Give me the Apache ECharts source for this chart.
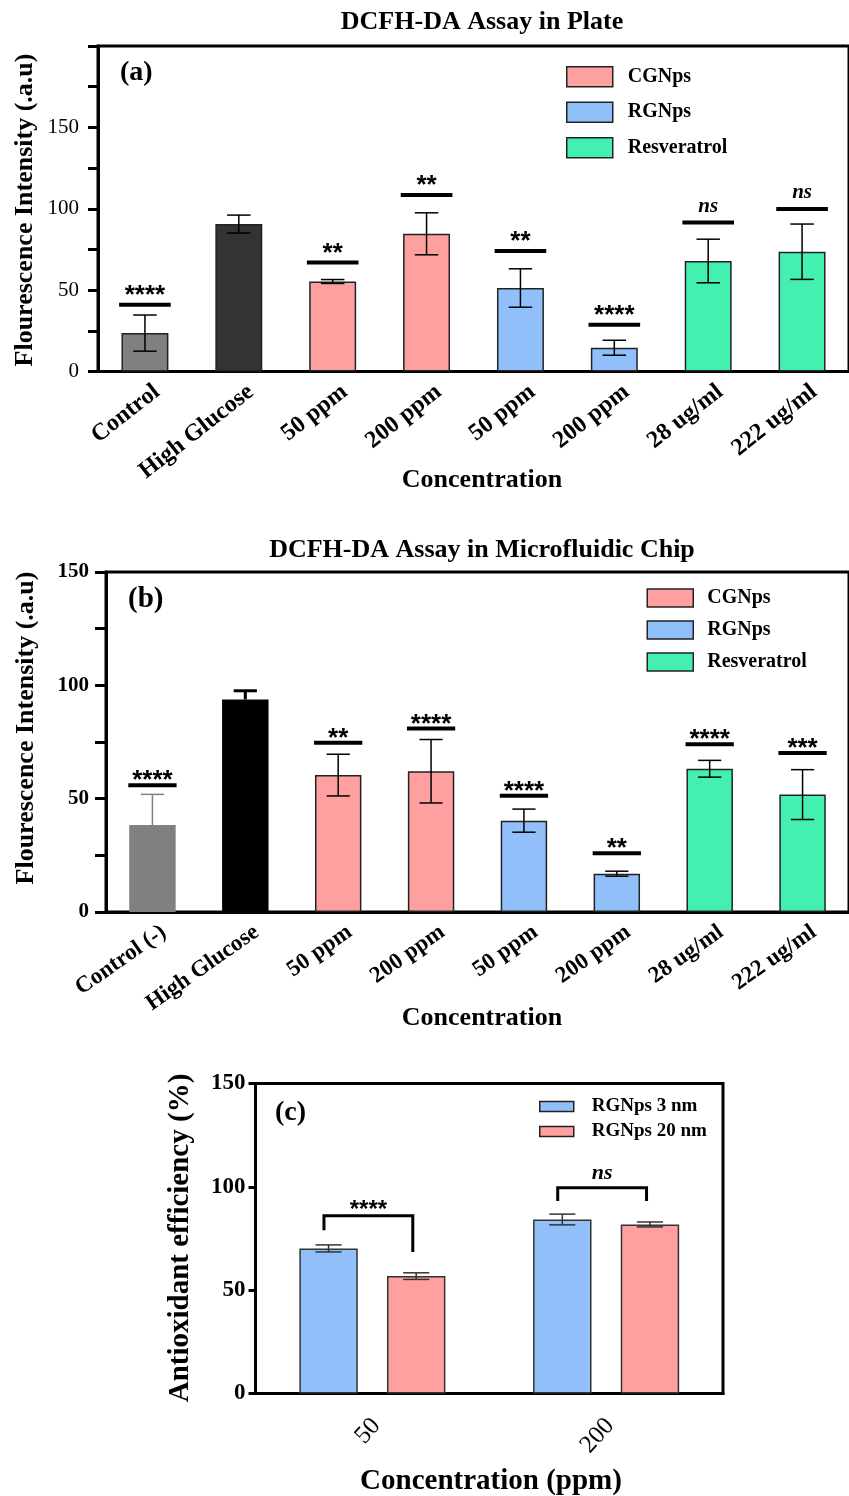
<!DOCTYPE html>
<html><head><meta charset="utf-8">
<script src="https://cdn.jsdelivr.net/npm/echarts@6/dist/echarts.min.js"></script>
<style>html,body{margin:0;padding:0;background:#fff}#c{width:849px;height:1496px}</style>
</head><body><div id="c"></div>
<script>
// ---------------- DATA ----------------
const catsA = ['Control','High Glucose','50 ppm','200 ppm','50 ppm','200 ppm','28 ug/ml','222 ug/ml'];
const groupA = ['Control','High Glucose','CGNps','CGNps','RGNps','RGNps','Resveratrol','Resveratrol'];
const meanA = [23.6, 90.6, 55.3, 84.6, 51.3, 14.6, 67.9, 73.6];
const sdA   = [11.1, 5.5, 1.2, 12.9, 11.8, 4.6, 13.4, 17.0];
const sigA  = ['****', '', '**', '**', '**', '****', 'ns', 'ns'];
const sigLevelA = [41, null, 67, 108.5, 74, 28.7, 91.6, 99.8];

const catsB = ['Control (-)','High Glucose','50 ppm','200 ppm','50 ppm','200 ppm','28 ug/ml','222 ug/ml'];
const groupB = ['Control (-)','High Glucose','CGNps','CGNps','RGNps','RGNps','Resveratrol','Resveratrol'];
const meanB = [38.4, 93.8, 60.4, 62.1, 40.3, 16.9, 63.2, 51.8];
const sdB   = [13.5, 3.8, 9.2, 14.0, 5.1, 1.1, 3.7, 11.0];
const sigB  = ['****', '', '**', '****', '****', '**', '****', '***'];
const sigLevelB = [55.9, null, 74.7, 81, 51.3, 25.9, 74, 70.1];

const catsC = ['50', '200'];
const mean3nm  = [70.2, 84.2];
const sd3nm    = [1.7, 2.6];
const mean20nm = [56.8, 81.8];
const sd20nm   = [1.6, 1.2];
const sigC = ['****', 'ns'];
const bracketC = [[86, 79, 68.5], [99.5, 93.2, 93.2]]; // top, left leg end, right leg end

// ---------------- STYLE ----------------
const SERIF = '"Liberation Serif","Times New Roman",serif';
const SANS = '"Liberation Sans",Arial,sans-serif';
const colA = {'Control':'#808080','High Glucose':'#333333','CGNps':'#FFA0A0','RGNps':'#91BFFA','Resveratrol':'#44F0B0'};
const colB = {'Control (-)':'#808080','High Glucose':'#000000','CGNps':'#FFA0A0','RGNps':'#91BFFA','Resveratrol':'#44F0B0'};
const upperOnlyB = [0, 1];

function barSeries(groups, means, gi, colors, stack, noBorder) {
  const names = [];
  groups.forEach(g => { if (!names.includes(g)) names.push(g); });
  return names.map(n => ({
    type: 'bar', name: n, xAxisIndex: gi, yAxisIndex: gi, stack: stack, barWidth: '50%',
    data: means.map((v, i) => groups[i] === n ? v : '-'),
    itemStyle: { color: colors[n], borderColor: (noBorder && noBorder.includes(n)) ? colors[n] : '#222', borderWidth: 1.5 },
    silent: true
  }));
}

function errSeries(means, sds, gi, upperOnly, colorFor, widthFor) {
  return {
    type: 'custom', xAxisIndex: gi, yAxisIndex: gi, z: 4, clip: false, silent: true,
    data: means.map((m, i) => [i, m, sds[i]]),
    renderItem(params, api) {
      const i = api.value(0), m = api.value(1), s = api.value(2);
      const bw = api.size([1, 0])[0];
      const x = api.coord([i, m])[0];
      const yT = api.coord([i, m + s])[1];
      const yB = upperOnly.includes(i) ? api.coord([i, m])[1] : api.coord([i, m - s])[1];
      const cap = bw * 0.125;
      const st = { stroke: colorFor(i), lineWidth: widthFor(i), fill: null };
      const ch = [
        { type: 'line', shape: { x1: x, y1: yT, x2: x, y2: yB }, style: st },
        { type: 'line', shape: { x1: x - cap, y1: yT, x2: x + cap, y2: yT }, style: st }
      ];
      if (!upperOnly.includes(i)) ch.push({ type: 'line', shape: { x1: x - cap, y1: yB, x2: x + cap, y2: yB }, style: st });
      return { type: 'group', children: ch };
    }
  };
}

function sigSeries(labels, levels, gi, wFrac, astOff, nsOff) {
  const items = [];
  labels.forEach((t, i) => { if (t) items.push({ v: [i, levels[i]], t: t }); });
  return {
    type: 'custom', xAxisIndex: gi, yAxisIndex: gi, z: 5, clip: false, silent: true,
    data: items.map(d => d.v),
    renderItem(params, api) {
      const d = items[params.dataIndex];
      const p = api.coord(d.v);
      const bw = api.size([1, 0])[0];
      const w = bw * wFrac;
      const ns = d.t === 'ns';
      return { type: 'group', children: [
        { type: 'rect', shape: { x: p[0] - w / 2, y: p[1] - 2, width: w, height: 4 }, style: { fill: '#000' } },
        { type: 'text', style: { x: p[0], y: p[1] - (ns ? nsOff : astOff), text: d.t, align: 'center', verticalAlign: 'middle',
          fontFamily: ns ? SERIF : SANS, fontStyle: ns ? 'italic' : 'normal', fontWeight: 'bold', fontSize: ns ? 21 : 26, fill: '#000' } }
      ]};
    }
  };
}

function xAxisCfg(gi, data, rot, fs, bold, margin, padR) {
  return {
    type: 'category', gridIndex: gi, data: data,
    axisLine: { lineStyle: { color: '#000', width: 3 } },
    axisTick: { alignWithLabel: true, length: 9, lineStyle: { color: '#000', width: 3 } },
    axisLabel: { interval: 0, rotate: rot, margin: margin, fontSize: fs, fontWeight: bold ? 'bold' : 'normal', fontFamily: SERIF, color: '#000',
      align: 'right', verticalAlign: 'top', padding: [0, padR, 0, 0] }
  };
}
function yAxisCfg(gi, max, fs, bold, margin, tickLen, minor, hideMax) {
  return {
    type: 'value', gridIndex: gi, min: 0, max: max, interval: 50,
    axisLine: { show: true, lineStyle: { color: '#000', width: 3 } },
    axisTick: { show: true, length: tickLen, lineStyle: { color: '#000', width: 3 } },
    minorTick: { show: minor, splitNumber: 2, length: tickLen, lineStyle: { color: '#000', width: 3 } },
    splitLine: { show: false },
    axisLabel: { showMaxLabel: !hideMax, margin: margin, fontSize: fs, fontWeight: bold ? 'bold' : 'normal', fontFamily: SERIF, color: '#000' }
  };
}

const legendCommon = (fs, lh, pad) => ({
  orient: 'vertical', padding: 0, icon: 'rect', selectedMode: false,
  itemStyle: { borderColor: '#222', borderWidth: 1.5 },
  textStyle: { fontFamily: SERIF, fontWeight: 'bold', fontSize: fs, lineHeight: lh, color: '#000', padding: [0, 0, 0, pad] }
});

const chart = echarts.init(document.getElementById('c'), null, { renderer: 'canvas' });

const seriesC = [
  { type: 'bar', name: 'RGNps 3 nm', xAxisIndex: 2, yAxisIndex: 2, barWidth: '25%', barGap: '50%', data: mean3nm,
    itemStyle: { color: '#91BFFA', borderColor: '#333', borderWidth: 1.5 }, silent: true },
  { type: 'bar', name: 'RGNps 20 nm', xAxisIndex: 2, yAxisIndex: 2, barWidth: '25%', barGap: '50%', data: mean20nm,
    itemStyle: { color: '#FFA0A0', borderColor: '#333', borderWidth: 1.5 }, silent: true },
  { type: 'custom', xAxisIndex: 2, yAxisIndex: 2, z: 4, clip: false, silent: true,
    data: catsC.map((c, i) => [i, mean3nm[i], sd3nm[i], mean20nm[i], sd20nm[i]]),
    renderItem(params, api) {
      const i = api.value(0);
      const bw = api.size([1, 0])[0];
      const cx = api.coord([i, 0])[0];
      const off = bw * 0.1875, cap = bw * 0.056;
      const st = { stroke: '#333', lineWidth: 1.5, fill: null };
      const ch = [];
      [[api.value(1), api.value(2), -off], [api.value(3), api.value(4), off]].forEach(([m, s, o]) => {
        const x = cx + o, yT = api.coord([i, m + s])[1], yB = api.coord([i, m - s])[1];
        ch.push({ type: 'line', shape: { x1: x, y1: yT, x2: x, y2: yB }, style: st });
        ch.push({ type: 'line', shape: { x1: x - cap, y1: yT, x2: x + cap, y2: yT }, style: st });
        ch.push({ type: 'line', shape: { x1: x - cap, y1: yB, x2: x + cap, y2: yB }, style: st });
      });
      return { type: 'group', children: ch };
    } },
  { type: 'custom', xAxisIndex: 2, yAxisIndex: 2, z: 5, clip: false, silent: true,
    data: bracketC.map((b, i) => [i, b[0], b[1], b[2]]),
    renderItem(params, api) {
      const i = api.value(0);
      const bw = api.size([1, 0])[0];
      const cx = api.coord([i, 0])[0] - 4;
      const xl = cx - bw * 0.19, xr = cx + bw * 0.19;
      const yTop = api.coord([i, api.value(1)])[1];
      const yl = api.coord([i, api.value(2)])[1];
      const yr = api.coord([i, api.value(3)])[1];
      const ns = sigC[i] === 'ns';
      return { type: 'group', children: [
        { type: 'polyline', shape: { points: [[xl, yl], [xl, yTop], [xr, yTop], [xr, yr]] }, style: { stroke: '#000', lineWidth: 3, fill: null } },
        { type: 'text', style: { x: cx, y: yTop - (ns ? 15 : 5), text: sigC[i], align: 'center', verticalAlign: 'middle',
          fontFamily: ns ? SERIF : SANS, fontStyle: ns ? 'italic' : 'normal', fontWeight: 'bold', fontSize: ns ? 22 : 24, fill: '#000' } }
      ]};
    } }
];

const option = {
  backgroundColor: '#fff',
  animation: false,
  grid: [
    { left: 98, top: 46, height: 325.5, right: -10, show: true, borderColor: '#000', borderWidth: 3, backgroundColor: 'transparent' },
    { left: 106, top: 572, height: 340, right: -6, show: true, borderColor: '#000', borderWidth: 3, backgroundColor: 'transparent' },
    { left: 255.5, top: 1083.5, height: 310, right: 126, show: true, borderColor: '#000', borderWidth: 3, backgroundColor: 'transparent' }
  ],
  xAxis: [
    xAxisCfg(0, catsA, 38, 24, true, 12, -6),
    xAxisCfg(1, catsB, 35, 23, true, 12, -6),
    xAxisCfg(2, catsC, 48, 25, false, 14, 8)
  ],
  yAxis: [
    yAxisCfg(0, 200, 21, false, 19, 10, true, true),
    yAxisCfg(1, 150, 21, true, 17, 11, true, false),
    yAxisCfg(2, 150, 23, true, 10, 7, false, false)
  ],
  legend: [
    Object.assign(legendCommon(20, 20, 10), { data: ['CGNps', 'RGNps', 'Resveratrol'], left: 566, top: 66, itemWidth: 46, itemHeight: 20, itemGap: 14 }),
    Object.assign(legendCommon(20, 18, 9), { data: ['CGNps', 'RGNps', 'Resveratrol'], left: 646.5, top: 588, itemWidth: 46, itemHeight: 18, itemGap: 12 }),
    Object.assign(legendCommon(19, 19, 13), { data: ['RGNps 3 nm', 'RGNps 20 nm'], left: 539, top: 1097, itemWidth: 34, itemHeight: 10, itemGap: 6 })
  ],
  graphic: [
    { type: 'text', x: 482, y: 22, style: { text: 'DCFH-DA Assay in Plate', align: 'center', verticalAlign: 'middle', fontFamily: SERIF, fontWeight: 'bold', fontSize: 26, fill: '#000' } },
    { type: 'text', x: 120, y: 73, style: { text: '(a)', align: 'left', verticalAlign: 'middle', fontFamily: SERIF, fontWeight: 'bold', fontSize: 28, fill: '#000' } },
    { type: 'text', x: 482, y: 480, style: { text: 'Concentration', align: 'center', verticalAlign: 'middle', fontFamily: SERIF, fontWeight: 'bold', fontSize: 26, fill: '#000' } },
    { type: 'text', x: 25, y: 210, rotation: Math.PI / 2, style: { text: 'Flourescence Intensity (.a.u)', align: 'center', verticalAlign: 'middle', fontFamily: SERIF, fontWeight: 'bold', fontSize: 26, fill: '#000' } },

    { type: 'text', x: 482, y: 550, style: { text: 'DCFH-DA Assay in Microfluidic Chip', align: 'center', verticalAlign: 'middle', fontFamily: SERIF, fontWeight: 'bold', fontSize: 26, fill: '#000' } },
    { type: 'text', x: 128, y: 600, style: { text: '(b)', align: 'left', verticalAlign: 'middle', fontFamily: SERIF, fontWeight: 'bold', fontSize: 29, fill: '#000' } },
    { type: 'text', x: 482, y: 1018, style: { text: 'Concentration', align: 'center', verticalAlign: 'middle', fontFamily: SERIF, fontWeight: 'bold', fontSize: 26, fill: '#000' } },
    { type: 'text', x: 26, y: 728, rotation: Math.PI / 2, style: { text: 'Flourescence Intensity (.a.u)', align: 'center', verticalAlign: 'middle', fontFamily: SERIF, fontWeight: 'bold', fontSize: 26, fill: '#000' } },

    { type: 'text', x: 275, y: 1113, style: { text: '(c)', align: 'left', verticalAlign: 'middle', fontFamily: SERIF, fontWeight: 'bold', fontSize: 28, fill: '#000' } },
    { type: 'text', x: 181, y: 1238, rotation: Math.PI / 2, style: { text: 'Antioxidant efficiency (%)', align: 'center', verticalAlign: 'middle', fontFamily: SERIF, fontWeight: 'bold', fontSize: 29, fill: '#000' } },
    { type: 'text', x: 491, y: 1482, style: { text: 'Concentration (ppm)', align: 'center', verticalAlign: 'middle', fontFamily: SERIF, fontWeight: 'bold', fontSize: 29, fill: '#000' } }
  ],
  series: [].concat(
    barSeries(groupA, meanA, 0, colA, 'A', []),
    [errSeries(meanA, sdA, 0, [], () => '#000', () => 1.5)],
    [sigSeries(sigA, sigLevelA, 0, 0.55, 9, 16)],
    barSeries(groupB, meanB, 1, colB, 'B', ['Control (-)', 'High Glucose']),
    [errSeries(meanB, sdB, 1, upperOnlyB, i => (i === 0 ? '#808080' : '#000'), i => (i === 1 ? 3 : 1.5))],
    [sigSeries(sigB, sigLevelB, 1, 0.52, 4, 12)],
    seriesC
  )
};
chart.setOption(option);
</script>
</body></html>
